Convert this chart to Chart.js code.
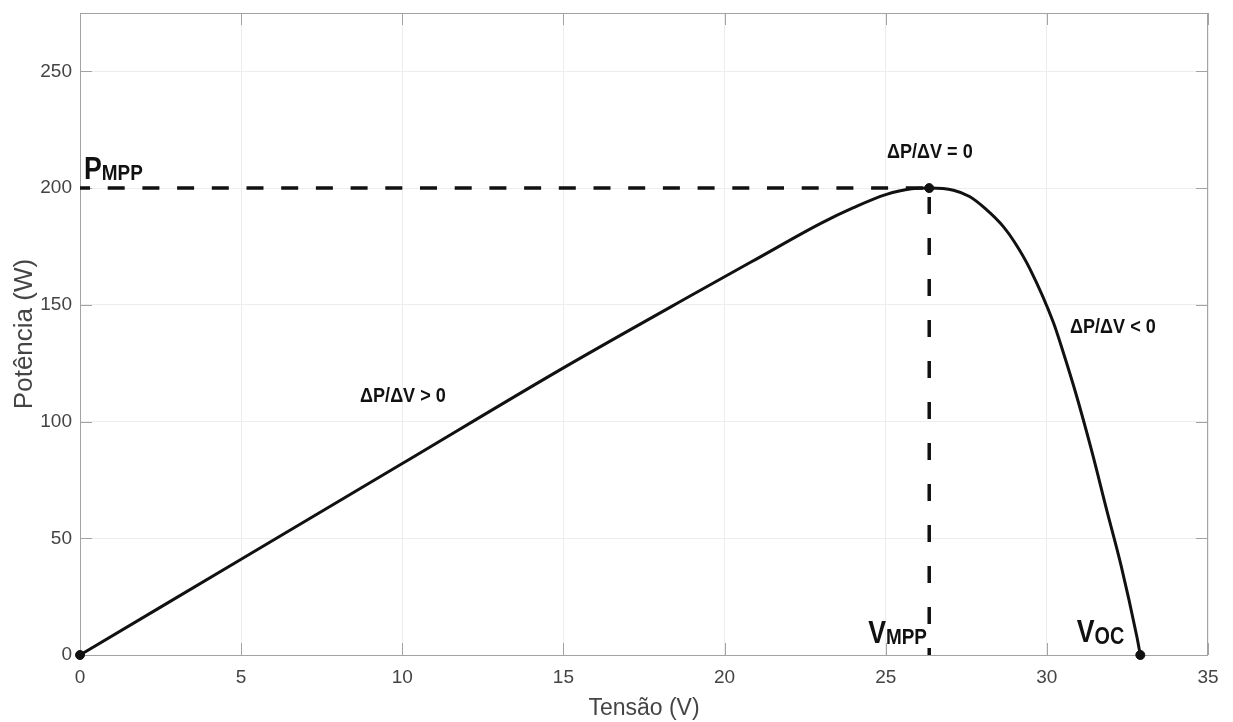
<!DOCTYPE html>
<html><head><meta charset="utf-8">
<script src="https://cdn.jsdelivr.net/npm/chart.js@4.4.1/dist/chart.umd.min.js"></script>
<style>html,body{margin:0;padding:0;background:#fff;}#wrap{width:1233px;height:722px;}</style>
</head><body><div id="wrap"><canvas id="c" width="1233" height="722"></canvas></div>
<script>
// ---- data ----
const voltage = [0, 5, 10, 15, 19, 21, 23, 24, 25, 25.8, 26.35, 27.1, 27.6, 28.1, 28.65, 29.0, 29.47, 30.2, 30.5, 30.9, 31.4, 31.85, 32.3, 32.79, 32.9];
const power   = [0, 41, 82, 123, 154.3, 169.7, 185, 191.6, 197.2, 199.7, 200, 199.1, 196.4, 191.1, 183.5, 176.8, 165.5, 142.5, 130, 112, 87, 62.5, 38.5, 8, 0];
const vMpp = 26.35;
const pMpp = 200;
const vOc = 32.9;
const markerV = [0, vMpp, vOc];
const markerP = [0, pMpp, 0];
const xTicks = [0, 5, 10, 15, 20, 25, 30, 35];
const yTicks = [0, 50, 100, 150, 200, 250];
const xTitle = 'Tensão (V)';
const yTitle = 'Potência (W)';

// font detection (narrow font approximates the squeezed reference text)
const mc = document.createElement('canvas').getContext('2d');
mc.font = "20px 'Liberation Sans Narrow', 'Liberation Sans'";
const wN = mc.measureText(xTitle).width;
mc.font = "20px 'Liberation Sans'";
const wR = mc.measureText(xTitle).width;
const hasNarrow = wN < wR * 0.95;
const FAM = hasNarrow ? "'Liberation Sans Narrow', 'Liberation Sans', Arial, sans-serif" : "'Liberation Sans', Arial, sans-serif";
const tickSize = hasNarrow ? 22 : 19;
const titleSize = hasNarrow ? 27 : 23;
const SQ = 0.86;

const pts = (xs, ys) => xs.map((v, i) => ({x: v, y: ys[i]}));

const framePlugin = {
  id: 'frame',
  beforeDatasetsDraw(chart) {
    const {ctx, chartArea: a, scales: {x, y}} = chart;
    ctx.save();
    ctx.strokeStyle = '#a3a3a3';
    ctx.lineWidth = 1;
    ctx.strokeRect(a.left + 0.5, a.top + 0.5, a.right - a.left - 1, a.bottom - a.top);
    const L = 12;
    ctx.beginPath();
    xTicks.forEach(v => {
      const px = Math.round(x.getPixelForValue(v)) + 0.5;
      ctx.moveTo(px, a.bottom); ctx.lineTo(px, a.bottom - L);
      ctx.moveTo(px, a.top); ctx.lineTo(px, a.top + L);
    });
    yTicks.forEach(v => {
      const py = Math.round(y.getPixelForValue(v)) + 0.5;
      ctx.moveTo(a.left, py); ctx.lineTo(a.left + L, py);
      ctx.moveTo(a.right, py); ctx.lineTo(a.right - L, py);
    });
    ctx.stroke();
    ctx.restore();
  }
};

const annotPlugin = {
  id: 'annot',
  afterDatasetsDraw(chart, args, opts) {
    const {ctx, scales: {x, y}} = chart;
    ctx.save();
    ctx.fillStyle = '#111';
    ctx.textBaseline = 'alphabetic';
    opts.items.forEach(it => {
      const px = x.getPixelForValue(it.x), py = y.getPixelForValue(it.y);
      let total = 0;
      it.parts.forEach(p => { ctx.font = `bold ${p.size}px 'Liberation Sans', Arial, sans-serif`; p.w = ctx.measureText(p.t).width; total += p.w; });
      ctx.save();
      ctx.translate(px, py);
      ctx.scale(SQ, 1);
      let cur = it.align === 'right' ? -total : it.align === 'center' ? -total / 2 : 0;
      it.parts.forEach(p => {
        ctx.font = `bold ${p.size}px 'Liberation Sans', Arial, sans-serif`;
        ctx.textAlign = 'left';
        ctx.fillText(p.t, cur, p.dy || 0);
        cur += p.w;
      });
      ctx.restore();
    });
    ctx.restore();
  }
};

const tickFont = {family: FAM, size: tickSize};

new Chart(document.getElementById('c'), {
  type: 'line',
  data: {
    datasets: [
      {label: 'pontos', data: pts(markerV, markerP), showLine: false, pointRadius: 4.5, pointBackgroundColor: '#111', pointBorderColor: '#111', clip: false},
      {label: 'P-V', data: pts(voltage, power), borderColor: '#111', borderWidth: 3, pointRadius: 0, cubicInterpolationMode: 'monotone', clip: false},
      {label: 'Pmpp', data: [{x: 0, y: pMpp}, {x: vMpp, y: pMpp}], borderColor: '#111', borderWidth: 3.5, borderDash: [17, 17.7], borderDashOffset: 7, pointRadius: 0},
      {label: 'Vmpp', data: [{x: vMpp, y: pMpp}, {x: vMpp, y: 0}], borderColor: '#111', borderWidth: 3.5, borderDash: [17, 24], borderDashOffset: 32, pointRadius: 0}
    ]
  },
  options: {
    responsive: false,
    animation: false,
    devicePixelRatio: 1,
    layout: {padding: {top: 13, right: 25, left: 0, bottom: 0}},
    plugins: {
      legend: {display: false},
      tooltip: {enabled: false},
      annot: {
        items: [
          {x: 0.124, y: 203.9, align: 'left', parts: [{t: 'P', size: 31}, {t: 'MPP', size: 22, dy: 1}]},
          {x: 26.28, y: 5.1, align: 'right', parts: [{t: 'V', size: 31}, {t: 'MPP', size: 22, dy: 1}]},
          {x: 30.93, y: 5.5, align: 'left', parts: [{t: 'V', size: 31}, {t: 'OC', size: 23, dy: 2}]},
          {x: 26.37, y: 212.9, align: 'center', parts: [{t: 'ΔP/ΔV = 0', size: 21}]},
          {x: 32.05, y: 138, align: 'center', parts: [{t: 'ΔP/ΔV < 0', size: 21}]},
          {x: 10.02, y: 108.4, align: 'center', parts: [{t: 'ΔP/ΔV > 0', size: 21}]}
        ]
      }
    },
    scales: {
      x: {
        type: 'linear', min: 0, max: 35,
        afterFit(s) { s.height = 67; s.paddingLeft = 0; s.paddingRight = 0; },
        afterBuildTicks(s) { s.ticks = xTicks.map(v => ({value: v})); },
        ticks: {stepSize: 5, padding: 11, font: tickFont, color: '#444', maxRotation: 0},
        grid: {color: '#ededed', lineWidth: 1, drawTicks: false},
        border: {display: false},
        title: {display: true, text: xTitle, font: {family: FAM, size: titleSize, lineHeight: 1.2}, color: '#444', padding: {top: 0, bottom: 0}}
      },
      y: {
        type: 'linear', min: 0, max: 275,
        afterFit(s) { s.width = 80; s.paddingTop = 0; s.paddingBottom = 0; },
        afterBuildTicks(s) { s.ticks = yTicks.map(v => ({value: v})); },
        ticks: {stepSize: 50, padding: 8, font: tickFont, color: '#444'},
        grid: {color: '#ededed', lineWidth: 1, drawTicks: false},
        border: {display: false},
        title: {display: true, text: yTitle, font: {family: "'Liberation Sans', Arial, sans-serif", size: 26, lineHeight: 1.2}, color: '#444', padding: {top: 9, bottom: 0}}
      }
    }
  },
  plugins: [framePlugin, annotPlugin]
});
</script></body></html>
